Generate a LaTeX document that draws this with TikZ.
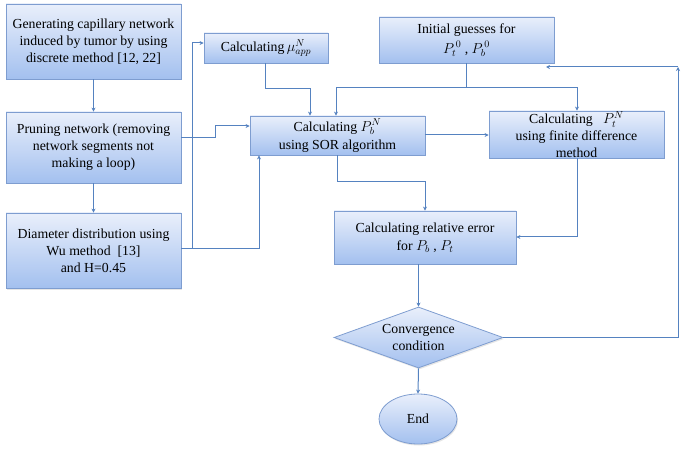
\documentclass[tikz,border=0pt]{standalone}
\usepackage{fontspec}
\setmainfont{Liberation Serif}
\usetikzlibrary{shapes.geometric,arrows.meta,shadows}
\definecolor{boxtop}{HTML}{E9EFFB}
\definecolor{boxbot}{HTML}{A3C0EF}
\definecolor{boxline}{HTML}{7E9DD0}
\definecolor{conn}{HTML}{5582C0}
\tikzset{
  blk/.style={rectangle, draw=boxline, line width=0.8pt, top color=boxtop, bottom color=boxbot,
    drop shadow={opacity=0.2, shadow xshift=1pt, shadow yshift=-1.5pt},
    align=center, inner sep=0pt, font=\fontsize{13.8}{17}\selectfont},
  arr/.style={draw=conn, line width=1pt, -{Stealth[length=4pt,width=4pt]}},
  ln/.style={draw=conn, line width=1pt},
  lbl/.style={align=center, font=\fontsize{13.8}{17}\selectfont}
}
\begin{document}
\begin{tikzpicture}[x=1pt,y=-1pt]
\useasboundingbox (0,0) rectangle (685,454);
% boxes
\node[blk, minimum width=175pt, minimum height=75pt] (A) at (93.5,41.5)
  {Generating capillary network\\induced by tumor by using\\discrete method [12, 22]};
\node[blk, minimum width=175pt, minimum height=71pt] (B) at (93.5,147.5)
  {Pruning network (removing\\network segments not\\making a loop)};
\node[blk, minimum width=175pt, minimum height=75pt] (C) at (93.5,250.5)
  {Diameter distribution using\\Wu method~~[13]\\and H=0.45};
\node[blk, minimum width=124pt, minimum height=30pt] (M) at (266,48)
  {Calculating$\,\mu_{app}^{N}$};
\node[blk, minimum width=175pt, minimum height=39pt] (S) at (337.5,135.5)
  {Calculating $P_b^{N}$\\[1pt]using SOR algorithm};
\node[blk, minimum width=175pt, minimum height=46pt] (I) at (466.5,40)
  {Initial guesses for\\[3pt]$P_t^{\,0}$ , $P_b^{\,0}$};
\node[blk, minimum width=175pt, minimum height=47pt] (F) at (576.5,134.5)
  {Calculating~~~$P_t^{N}$\\using finite difference\\method};
\node[blk, minimum width=182pt, minimum height=53pt] (R) at (425,237.5)
  {Calculating relative error\\[1pt]for $P_b$ , $P_t$};
\node[blk, shape=diamond, minimum width=169pt, minimum height=61pt] (D) at (418.5,337.5) {};
\node[lbl] (Dt) at (D.center) {Convergence\\condition};
\node[blk, shape=ellipse, minimum width=78pt, minimum height=50pt] (E) at (418,419) {End};
% connectors
\draw[arr] (A.south) -- (B.north);
\draw[arr] (B.south) -- (C.north);
\draw[arr] (B.east |- 0,138) -- (215,138) -- (215,126) -- (S.west |- 0,126);
\coordinate (cj) at (192,249);
\draw[ln] (C.east |- cj) -- (cj);
\draw[arr] (cj) -- (192,43) -- (M.west |- 0,43);
\draw[arr] (cj) -- (259,249) -- (S.south -| 259,0);
\draw[arr] (M.south -| 265,0) -- (265,89) -- (310,89) -- (S.north -| 310,0);
\coordinate (ij) at (466,88);
\draw[ln] (I.south -| ij) -- (ij);
\draw[arr] (ij) -- (336,88) -- (S.north -| 336,0);
\draw[arr] (ij) -- (577,88) -- (F.north -| 577,0);
\draw[arr] (S.east |- 0,135) -- (F.west |- 0,135);
\draw[arr] (S.south -| 337,0) -- (337,182) -- (425,182) -- (R.north);
\draw[arr] (F.south -| 577,0) -- (577,237) -- (R.east |- 0,237);
\draw[arr] (R.south -| D.north) -- (D.north);
\coordinate (k) at (678,67);
\draw[arr] (D.east) -- (k |- D.east) -- (k);
\draw[arr] (k) -- (546,67);
\draw[arr] (D.south) -- (E.north);
\end{tikzpicture}
\end{document}
